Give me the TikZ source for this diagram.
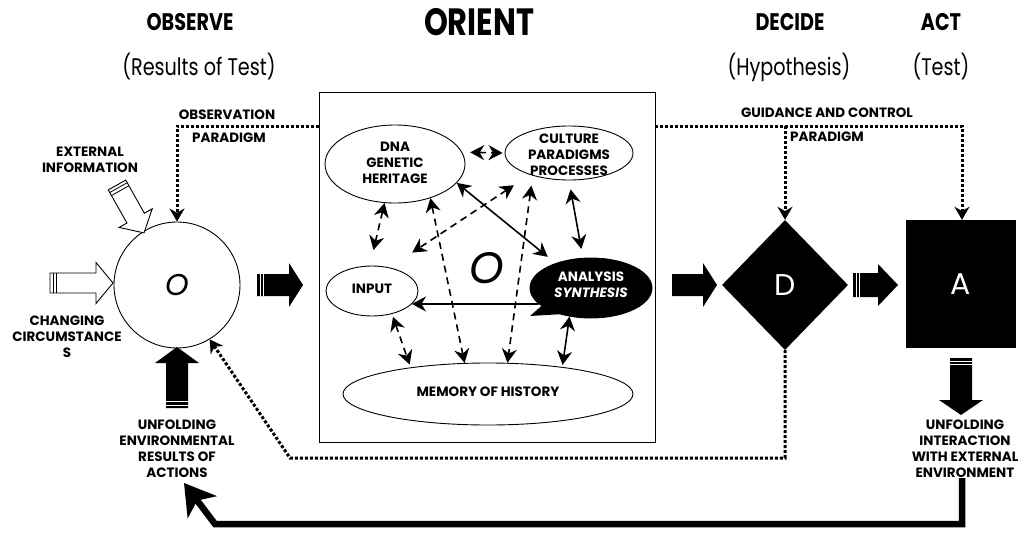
\documentclass[tikz,border=0pt]{standalone}
\usepackage{fontspec}
\setmainfont{Poppins}
\newfontfamily\titlefont[FakeStretch=0.8]{Poppins}
\usetikzlibrary{shapes.geometric,arrows.meta,calc}

% block arrow: [style]{tail}{angle}{length}{shaft half width}{head half width}{head length}
\newcommand\blockarrow[7][]{%
  \begin{scope}[shift={#2}, rotate=#3]
    \path[#1] (0,-#5) -- ({#4-#7},-#5) -- ({#4-#7},-#6) -- (#4,0)
      -- ({#4-#7},#6) -- ({#4-#7},#5) -- (0,#5) -- cycle;
  \end{scope}}
% thin bands across the tail of a block arrow: {colour}{tail}{angle}{shaft half width}
\newcommand\tailbands[4]{%
  \begin{scope}[shift={#2}, rotate=#3]
    \draw[#1, line width=0.8] (3,-#4) -- (3,#4) (6.5,-#4) -- (6.5,#4);
  \end{scope}}

\begin{document}
\begin{tikzpicture}[x=1pt, y=-1pt,
  lbl/.style={font=\bfseries\fontsize{13.5}{16}\selectfont, align=center, inner sep=0},
  ttl/.style={font=\titlefont\bfseries\fontsize{24}{24}\selectfont, inner sep=0},
  sub/.style={font=\titlefont\fontsize{24}{24}\selectfont, inner sep=0},
  ell/.style={draw, ellipse, inner sep=0, line width=0.9},
  whiteArr/.style={draw, fill=white, line width=0.9},
  blackArr/.style={fill=black},
  dotline/.style={line width=3, dash pattern=on 3pt off 2pt,
    -{Stealth[length=13pt,width=15pt]}},
  inarr/.style={line width=1.6,
    {Stealth[length=14pt,width=15pt]}-{Stealth[length=14pt,width=15pt]}},
  dsh/.style={dash pattern=on 7pt off 5pt},
  fb/.style={line width=6.5, line join=miter,
    -{Stealth[length=30pt,width=36pt,inset=8pt]}}]
\useasboundingbox (0,0) rectangle (1021,533);

% column headings
\node[ttl] (tObs) at (190,22) {OBSERVE};
\node[ttl, font=\titlefont\bfseries\fontsize{38}{38}\selectfont] (tOri) at (479,22) {ORIENT};
\node[ttl] (tDec) at (790,22) {DECIDE};
\node[ttl] (tAct) at (941,22) {ACT};
\node[sub] (sObs) at (199,67) {(Results of Test)};
\node[sub] (sDec) at (789,67) {(Hypothesis)};
\node[sub] (sAct) at (941,67) {(Test)};

% main blocks
\node[draw, circle, minimum size=126, inner sep=0, line width=0.9,
  font=\itshape\fontsize{30}{30}\selectfont] (obs) at (177,285) {O};
\node[draw, minimum width=336, minimum height=350, line width=0.9] (orient) at (487,267) {};
\node[font=\itshape\fontsize{44}{44}\selectfont] (bigO) at (487,268) {O};
\node[diamond, fill=black, minimum width=126, minimum height=130, inner sep=0,
  text=white, font=\fontsize{30}{30}\selectfont] (D) at (785,285) {D};
\node[fill=black, minimum width=110, minimum height=128, inner sep=0,
  text=white, font=\fontsize{30}{30}\selectfont] (A) at (961,284) {A};

% orientation components
\node[ell, minimum width=140, minimum height=78] (dna) at (395,164) {};
\node[lbl] (dnaT) at (395,163) {DNA\\GENETIC\\HERITAGE};
\node[ell, minimum width=128, minimum height=54] (cul) at (569,153) {};
\node[lbl] (culT) at (569,155) {CULTURE\\PARADIGMS\\PROCESSES};
\node[ell, minimum width=92, minimum height=50] (inp) at (372,291) {};
\node[lbl] (inpT) at (372,289) {INPUT};
\node[ell, fill=black, minimum width=122, minimum height=60] (ana) at (591,288) {};
\fill (ana.-160) -- (530,316) -- (ana.-140) -- cycle;
\node[lbl, text=white] (anaT) at (591,285) {ANALYSIS\\\textit{SYNTHESIS}};
\node[ell, minimum width=290, minimum height=62] (mem) at (488,394) {};
\node[lbl] (memT) at (488,392) {MEMORY OF HISTORY};

% links inside the orientation box
\draw[inarr, dsh, shorten <=8pt, shorten >=2pt] (dna.10) -- (cul.180);
\draw[inarr, dsh, shorten >=16pt] (dna.-105) -- (inp.95);
\draw[inarr, dsh] (dna.-44) -- (mem.127);
\draw[inarr, dsh, shorten <=19pt, shorten >=27pt] (cul.-151) -- (inp.53);
\draw[inarr, dsh, shorten <=10pt] (cul.-148) -- (mem.58);
\draw[inarr, shorten >=10pt] (dna.-17) -- (ana.145);
\draw[inarr, shorten <=9pt, shorten >=9pt] (cul.-90) -- (ana.105);
\draw[line width=1.6, -{Stealth[length=14pt,width=15pt]}] (ana.-163) -- (inp.-18);
\draw[inarr, dsh, shorten <=3pt, shorten >=3pt] (inp.-49) -- (mem.161);
\draw[inarr, shorten >=2pt] (ana.-127) -- (mem.20);

% side labels
\node[lbl] (obsPar1) at (227,115) {OBSERVATION};
\node[lbl, anchor=west] (obsPar2) at (192,138) {PARADIGM};
\node[lbl] (gcp1) at (827,113) {GUIDANCE AND CONTROL};
\node[lbl, anchor=west] (gcp2) at (790,137) {PARADIGM};
\node[lbl] (extInfo) at (90,160) {EXTERNAL\\INFORMATION};
\node[lbl] (chg) at (67,337) {CHANGING\\CIRCUMSTANCE\\S};
\node[lbl] (res) at (177,449) {UNFOLDING\\ENVIRONMENTAL\\RESULTS OF\\ACTIONS};
\node[lbl] (inter) at (965,449) {UNFOLDING\\INTERACTION\\WITH EXTERNAL\\ENVIRONMENT};

% dotted paradigm and control paths
\coordinate (obsCorner) at (177,126);
\coordinate (actCorner) at (962,126);
\coordinate (dCorner) at (290,458);
\draw[dotline] (orient.west |- obsCorner) -- (obsCorner) -- (obs.north);
\draw[dotline] (orient.east |- actCorner) -- (actCorner) -- (A.north -| actCorner);
\draw[dotline] (D.north |- actCorner) -- (D.north);
\draw[dotline] (D.south) |- (dCorner) -- (obs.-59);

% feedback from action to observation
\coordinate (fbL) at (215,524);
\coordinate (fbTip) at (184,483);
\draw[fb] (inter.south -| actCorner) |- (fbL) -- (fbTip);

% block arrows
\blockarrow[whiteArr]{(50,283)}{0}{63}{10}{20.5}{17}
\tailbands{black}{(50,283)}{0}{10}
\blockarrow[whiteArr]{(117,185)}{-60.6}{55}{10}{19}{17}
\tailbands{black}{(117,185)}{-60.6}{10}
\blockarrow[blackArr]{(257,285)}{0}{46}{11}{22}{14}
\tailbands{white}{(257,285)}{0}{11}
\blockarrow[blackArr]{(672,285)}{0}{45}{11}{22}{14}
\blockarrow[blackArr]{(853,285)}{0}{45}{12}{21}{20}
\tailbands{white}{(853,285)}{0}{12}
\blockarrow[blackArr]{(177,408)}{90}{61}{11}{22}{16}
\tailbands{white}{(177,408)}{90}{11}
\blockarrow[blackArr]{(961,358)}{-90}{57}{11}{22}{15}
\tailbands{white}{(961,358)}{-90}{11}
\end{tikzpicture}
\end{document}
